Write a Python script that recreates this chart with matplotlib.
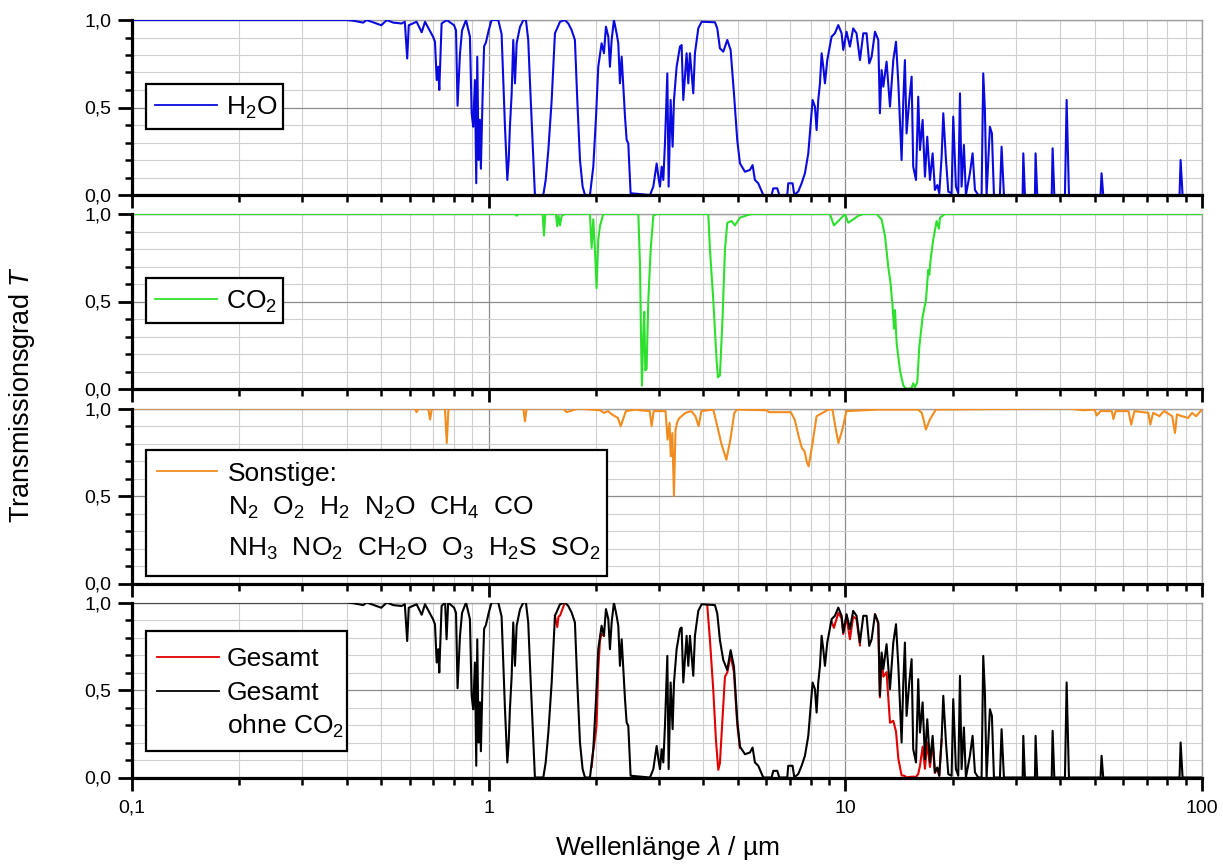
import numpy as np
import matplotlib
matplotlib.use("Agg")
import matplotlib.pyplot as plt
from matplotlib.patches import Rectangle
from matplotlib.lines import Line2D
from matplotlib.ticker import LogLocator, MultipleLocator, NullFormatter

plt.rcParams["font.family"] = ["Liberation Sans", "DejaVu Sans"]
plt.rcParams["mathtext.fontset"] = "custom"
plt.rcParams["mathtext.rm"] = "Liberation Sans"
plt.rcParams["mathtext.it"] = "Liberation Sans:italic"
plt.rcParams["mathtext.bf"] = "Liberation Sans:bold"

# ── data: wavelength in µm, transmission T ──────────────────────────────────

h2o_lam = [
    0.1, 0.40, 0.417, 0.445, 0.455, 0.50, 0.518, 0.540, 0.570, 0.582,
    0.591, 0.597, 0.628, 0.649, 0.663, 0.698, 0.707, 0.715, 0.722, 0.727,
    0.738, 0.763, 0.80, 0.810, 0.818, 0.831, 0.842, 0.864, 0.886, 0.896,
    0.905, 0.915, 0.923, 0.929, 0.937, 0.945, 0.951, 0.962, 0.971, 0.982,
    1.0, 1.019, 1.064, 1.087, 1.099, 1.111, 1.128, 1.138, 1.147, 1.160,
    1.172, 1.185, 1.198, 1.224, 1.251, 1.272, 1.291, 1.306, 1.328, 1.348,
    1.423, 1.445, 1.470, 1.502, 1.534, 1.585, 1.636, 1.672, 1.708, 1.745,
    1.772, 1.803, 1.834, 1.862, 1.923, 1.965, 2.0, 2.029, 2.073, 2.105,
    2.132, 2.165, 2.188, 2.212, 2.245, 2.284, 2.309, 2.334, 2.360, 2.385,
    2.411, 2.437, 2.463, 2.500, 2.834, 2.895, 2.958, 3.0, 3.022, 3.055,
    3.088, 3.121, 3.169, 3.196, 3.237, 3.279, 3.308, 3.365, 3.438, 3.475,
    3.513, 3.589, 3.628, 3.667, 3.747, 3.787, 3.870, 3.954, 4.31, 4.375,
    4.450, 4.548, 4.667, 4.768, 4.872, 4.977, 5.064, 5.230, 5.401, 5.495,
    5.578, 5.700, 5.887, 6.213, 6.280, 6.445, 6.529, 6.874, 6.918, 7.114,
    7.192, 7.379, 7.541, 7.704, 7.873, 7.957, 8.095, 8.219, 8.307, 8.397,
    8.489, 8.581, 8.672, 8.767, 8.899, 9.152, 9.350, 9.555, 9.761, 9.867,
    10.08, 10.30, 10.52, 10.75, 10.99, 11.23, 11.47, 11.67, 11.85, 12.11,
    12.37, 12.50, 12.64, 12.78, 13.05, 13.34, 13.63, 13.87, 14.08, 14.38,
    14.54, 14.69, 14.85, 15.11, 15.34, 15.50, 15.78, 16.01, 16.19, 16.47,
    16.72, 16.97, 17.27, 17.57, 17.83, 18.11, 18.34, 18.62, 18.82, 19.15,
    19.44, 19.86, 20.07, 20.42, 20.73, 20.96, 21.18, 21.50, 21.78, 22.35,
    22.74, 23.09, 23.59, 24.10, 24.36, 24.62, 24.89, 25.43, 25.76, 26.10,
    27.13, 27.42, 27.84, 31.41, 31.55, 31.88, 34.01, 34.15, 34.52, 37.9,
    38.12, 38.54, 41.28, 41.73, 42.36, 51.95, 52.29, 52.85, 86.5, 87.1,
    88.2, 100.0,
]
h2o_t = [
    1.0, 1.0, 0.996, 0.985, 1.0, 0.97, 1.0, 0.985, 0.98, 0.99,
    0.78, 0.97, 0.99, 0.93, 0.99, 0.905, 0.876, 0.657, 0.733, 0.60,
    0.98, 1.0, 0.97, 0.94, 0.51, 0.81, 0.94, 1.0, 0.905, 0.467,
    0.39, 0.657, 0.067, 0.79, 0.20, 0.43, 0.15, 0.58, 0.85, 0.87,
    0.94, 1.0, 1.0, 0.92, 0.657, 0.39, 0.086, 0.2, 0.39, 0.58,
    0.886, 0.638, 0.867, 0.96, 1.0, 1.0, 0.886, 0.638, 0.295, 0.0,
    0.0, 0.086, 0.257, 0.543, 0.924, 0.99, 1.0, 0.98, 0.943, 0.886,
    0.543, 0.2, 0.048, 0.0, 0.0, 0.162, 0.448, 0.733, 0.867, 0.81,
    0.962, 0.905, 0.733, 0.886, 1.0, 0.924, 0.867, 0.638, 0.79, 0.62,
    0.448, 0.314, 0.295, 0.01, 0.0, 0.048, 0.18, 0.086, 0.048, 0.162,
    0.086, 0.295, 0.695, 0.048, 0.543, 0.276, 0.543, 0.733, 0.848, 0.857,
    0.543, 0.81, 0.638, 0.81, 0.581, 0.81, 0.952, 0.99, 0.987, 0.952,
    0.838, 0.819, 0.886, 0.829, 0.581, 0.314, 0.181, 0.133, 0.143, 0.171,
    0.086, 0.067, 0.0, 0.0, 0.038, 0.038, 0.0, 0.0, 0.067, 0.067,
    0.0, 0.02, 0.067, 0.124, 0.238, 0.352, 0.543, 0.505, 0.371, 0.543,
    0.638, 0.81, 0.733, 0.638, 0.771, 0.905, 0.924, 0.971, 0.924, 0.829,
    0.933, 0.848, 0.952, 0.924, 0.771, 0.924, 0.924, 0.752, 0.79, 0.933,
    0.886, 0.467, 0.714, 0.619, 0.762, 0.505, 0.771, 0.876, 0.638, 0.2,
    0.543, 0.771, 0.352, 0.543, 0.676, 0.162, 0.086, 0.562, 0.257, 0.429,
    0.105, 0.333, 0.086, 0.238, 0.029, 0.057, 0.01, 0.219, 0.467, 0.2,
    0.019, 0.01, 0.448, 0.048, 0.01, 0.581, 0.048, 0.286, 0.0, 0.124,
    0.238, 0.029, 0.0, 0.0, 0.695, 0.486, 0.0, 0.39, 0.352, 0.0,
    0.0, 0.276, 0.0, 0.0, 0.238, 0.0, 0.0, 0.238, 0.0, 0.0,
    0.267, 0.0, 0.0, 0.543, 0.0, 0.0, 0.124, 0.0, 0.0, 0.2,
    0.0, 0.0,
]

co2_lam = [
    0.1, 1.185, 1.198, 1.211, 1.417, 1.429, 1.441, 1.544, 1.557, 1.57,
    1.585, 1.602, 1.636, 1.923, 1.944, 1.965, 1.986, 2.007, 2.029, 2.051,
    2.096, 2.628, 2.657, 2.673, 2.690, 2.714, 2.731, 2.749, 2.772, 2.803,
    2.846, 2.895, 2.958, 4.128, 4.173, 4.263, 4.356, 4.393, 4.450, 4.528,
    4.597, 4.667, 4.799, 4.903, 5.064, 5.286, 5.460, 9.053, 9.290, 9.658,
    9.975, 10.19, 10.52, 10.87, 11.23, 12.24, 12.64, 12.92, 13.19, 13.39,
    13.57, 13.69, 13.78, 13.93, 14.23, 14.54, 14.85, 15.34, 15.50, 15.67,
    15.91, 16.12, 16.47, 16.83, 17.08, 17.2, 17.34, 17.64, 18.03, 18.30,
    18.42, 19.02, 100.0,
]
co2_t = [
    1.0, 1.0, 0.99, 1.0, 1.0, 0.877, 1.0, 1.0, 0.93, 0.99,
    0.935, 0.99, 1.0, 1.0, 0.806, 0.97, 0.797, 0.576, 0.854, 0.93,
    1.0, 1.0, 0.70, 0.317, 0.019, 0.317, 0.441, 0.106, 0.115, 0.509,
    0.797, 0.99, 1.0, 1.0, 0.797, 0.509, 0.163, 0.067, 0.077, 0.413,
    0.797, 0.95, 0.96, 0.935, 0.979, 0.992, 1.0, 1.0, 0.935, 0.969,
    1.0, 0.95, 0.969, 0.99, 1.0, 1.0, 0.969, 0.873, 0.70, 0.605,
    0.47, 0.345, 0.451, 0.259, 0.106, 0.019, 0.0, 0.006, 0.033, 0.01,
    0.038, 0.24, 0.413, 0.509, 0.681, 0.653, 0.739, 0.854, 0.96, 0.916,
    0.979, 1.0, 1.0,
]

sonst_lam = [
    0.1, 0.621, 0.628, 0.635, 0.677, 0.685, 0.693, 0.754, 0.763, 0.771,
    0.78, 1.251, 1.264, 1.277, 1.619, 1.654, 1.784, 2.052, 2.105, 2.161,
    2.216, 2.303, 2.345, 2.381, 2.424, 2.585, 2.652, 2.828, 2.864, 2.901,
    3.133, 3.174, 3.215, 3.240, 3.273, 3.307, 3.341, 3.384, 3.428, 3.562,
    3.702, 3.799, 3.878, 3.948, 4.264, 4.375, 4.487, 4.639, 4.760, 4.884,
    4.973, 6.027, 6.105, 7.031, 7.211, 7.399, 7.552, 7.689, 7.790, 7.889,
    8.094, 8.305, 8.630, 8.971, 9.203, 9.370, 9.563, 9.811, 10.07, 12.36,
    15.98, 16.39, 16.61, 16.82, 17.26, 17.94, 42.35, 46.32, 50.02, 50.67,
    51.95, 55.85, 56.43, 57.30, 62.21, 63.33, 64.64, 70.72, 71.64, 72.94,
    75.99, 77.36, 78.37, 82.49, 84.0, 85.07, 87.96, 91.41, 93.77, 96.21,
    100.0,
]
sonst_t = [
    1.0, 1.0, 0.979, 1.0, 1.0, 0.937, 1.0, 1.0, 0.803, 0.99,
    1.0, 1.0, 0.927, 1.0, 1.0, 0.979, 1.0, 0.99, 0.975, 0.985,
    0.966, 0.946, 0.899, 0.937, 0.985, 0.994, 0.99, 0.985, 0.899, 0.985,
    0.985, 0.822, 0.918, 0.727, 0.86, 0.501, 0.88, 0.927, 0.946, 0.975,
    0.985, 0.956, 0.899, 0.985, 0.994, 0.899, 0.803, 0.707, 0.822, 0.975,
    0.994, 0.99, 0.979, 0.979, 0.937, 0.841, 0.774, 0.755, 0.698, 0.669,
    0.803, 0.956, 0.975, 0.994, 0.994, 0.899, 0.803, 0.88, 0.985, 0.994,
    0.994, 0.975, 0.927, 0.88, 0.937, 0.994, 1.0, 0.99, 0.994, 0.96,
    0.985, 0.985, 0.94, 0.985, 0.985, 0.908, 0.985, 0.975, 0.908, 0.975,
    0.956, 0.975, 0.985, 0.956, 0.86, 0.966, 0.956, 0.946, 0.975, 0.956,
    0.994,
]

# Gesamt ohne CO2 (black, bottom panel)
ohne_lam = [
    0.1, 0.40, 0.417, 0.445, 0.455, 0.50, 0.518, 0.540, 0.570, 0.582,
    0.591, 0.597, 0.628, 0.649, 0.663, 0.698, 0.707, 0.715, 0.722, 0.727,
    0.738, 0.755, 0.762, 0.770, 0.80, 0.810, 0.818, 0.831, 0.842, 0.864,
    0.886, 0.896, 0.905, 0.915, 0.923, 0.929, 0.937, 0.945, 0.951, 0.962,
    0.971, 0.982, 1.0, 1.019, 1.064, 1.087, 1.099, 1.111, 1.128, 1.138,
    1.147, 1.160, 1.172, 1.185, 1.198, 1.224, 1.251, 1.272, 1.291, 1.306,
    1.328, 1.348, 1.423, 1.445, 1.470, 1.502, 1.534, 1.585, 1.636, 1.672,
    1.708, 1.745, 1.772, 1.803, 1.834, 1.862, 1.923, 1.965, 2.0, 2.029,
    2.073, 2.105, 2.132, 2.165, 2.188, 2.212, 2.245, 2.284, 2.309, 2.334,
    2.360, 2.385, 2.411, 2.437, 2.463, 2.500, 2.834, 2.895, 2.958, 3.0,
    3.022, 3.055, 3.088, 3.121, 3.169, 3.196, 3.237, 3.279, 3.308, 3.365,
    3.438, 3.475, 3.513, 3.589, 3.628, 3.667, 3.747, 3.787, 3.870, 3.954,
    4.31, 4.375, 4.450, 4.548, 4.667, 4.768, 4.872, 4.977, 5.064, 5.230,
    5.401, 5.495, 5.578, 5.700, 5.887, 6.213, 6.280, 6.445, 6.529, 6.874,
    6.918, 7.114, 7.192, 7.379, 7.541, 7.704, 7.873, 7.957, 8.095, 8.219,
    8.307, 8.397, 8.489, 8.581, 8.672, 8.767, 8.899, 9.152, 9.350, 9.555,
    9.761, 9.867, 10.08, 10.30, 10.52, 10.75, 10.99, 11.23, 11.47, 11.67,
    11.85, 12.11, 12.37, 12.50, 12.64, 12.78, 13.05, 13.34, 13.63, 13.87,
    14.08, 14.38, 14.54, 14.69, 14.85, 15.11, 15.34, 15.50, 15.78, 16.01,
    16.19, 16.47, 16.72, 16.97, 17.27, 17.57, 17.83, 18.11, 18.34, 18.62,
    18.82, 19.15, 19.44, 19.86, 20.07, 20.42, 20.73, 20.96, 21.18, 21.50,
    21.78, 22.35, 22.74, 23.09, 23.59, 24.10, 24.36, 24.62, 24.89, 25.43,
    25.76, 26.10, 27.13, 27.42, 27.84, 31.41, 31.55, 31.88, 34.01, 34.15,
    34.52, 37.9, 38.12, 38.54, 41.28, 41.73, 42.36, 51.95, 52.29, 52.85,
    86.5, 87.1, 88.2, 100.0,
]
ohne_t = [
    1.0, 1.0, 0.996, 0.985, 1.0, 0.97, 1.0, 0.985, 0.98, 0.99,
    0.78, 0.97, 0.99, 0.93, 0.99, 0.905, 0.876, 0.657, 0.733, 0.60,
    0.98, 1.0, 0.79, 1.0, 0.97, 0.94, 0.51, 0.81, 0.94, 1.0,
    0.905, 0.467, 0.39, 0.657, 0.067, 0.79, 0.20, 0.43, 0.15, 0.58,
    0.85, 0.87, 0.94, 1.0, 1.0, 0.92, 0.657, 0.39, 0.086, 0.2,
    0.39, 0.58, 0.886, 0.638, 0.867, 0.96, 1.0, 1.0, 0.886, 0.638,
    0.295, 0.0, 0.0, 0.086, 0.257, 0.543, 0.924, 0.99, 1.0, 0.98,
    0.943, 0.886, 0.543, 0.2, 0.048, 0.0, 0.0, 0.162, 0.448, 0.733,
    0.867, 0.81, 0.962, 0.905, 0.733, 0.886, 1.0, 0.924, 0.867, 0.638,
    0.79, 0.62, 0.448, 0.314, 0.295, 0.01, 0.0, 0.048, 0.18, 0.086,
    0.048, 0.162, 0.086, 0.295, 0.695, 0.048, 0.543, 0.276, 0.543, 0.733,
    0.848, 0.857, 0.543, 0.81, 0.638, 0.81, 0.581, 0.81, 0.952, 0.99,
    0.985, 0.937, 0.785, 0.671, 0.614, 0.728, 0.633, 0.329, 0.177, 0.133,
    0.143, 0.171, 0.086, 0.067, 0.0, 0.0, 0.038, 0.038, 0.0, 0.0,
    0.067, 0.067, 0.0, 0.02, 0.067, 0.124, 0.238, 0.352, 0.543, 0.505,
    0.371, 0.543, 0.638, 0.81, 0.733, 0.638, 0.771, 0.905, 0.924, 0.971,
    0.924, 0.829, 0.933, 0.848, 0.952, 0.924, 0.771, 0.924, 0.924, 0.752,
    0.79, 0.933, 0.886, 0.467, 0.714, 0.619, 0.762, 0.505, 0.771, 0.876,
    0.638, 0.2, 0.543, 0.771, 0.352, 0.543, 0.676, 0.162, 0.086, 0.562,
    0.257, 0.429, 0.105, 0.333, 0.086, 0.238, 0.029, 0.057, 0.01, 0.219,
    0.467, 0.2, 0.019, 0.01, 0.448, 0.048, 0.01, 0.581, 0.048, 0.286,
    0.0, 0.124, 0.238, 0.029, 0.0, 0.0, 0.695, 0.486, 0.0, 0.39,
    0.352, 0.0, 0.0, 0.276, 0.0, 0.0, 0.238, 0.0, 0.0, 0.238,
    0.0, 0.0, 0.267, 0.0, 0.0, 0.543, 0.0, 0.0, 0.124, 0.0,
    0.0, 0.2, 0.0, 0.0,
]

# Gesamt (red) – only the bands where CO2 makes a visible difference
nan = float("nan")
gesamt_lam = [
    1.534, 1.557, 1.57, 1.585, 1.602, 1.636, nan,
    1.944, 1.965, 1.986, 2.0, 2.007, 2.029, 2.051, 2.073, 2.105, nan,
    4.10, 4.173, 4.263, 4.337, 4.403, 4.450, 4.528, 4.597, 4.667, 4.768,
    4.872, 4.977, 5.064, nan,
    9.152, 9.29, 9.35, 9.555, 9.761, 9.867, 10.08, 10.30, 10.52, 10.75,
    10.99, nan,
    12.11, 12.37, 12.50, 12.64, 12.78, 13.05, 13.34, 13.63, 13.87, 14.08,
    14.38, 14.54, 14.69, 14.85, 15.11, 15.34, 15.50, 15.78, 16.01, 16.19,
    16.47, 16.72, 16.97, 17.27, 17.57, 17.83, 18.11, 18.34, 18.62,
]
gesamt_t = [
    0.924, 0.86, 0.92, 0.925, 0.95, 1.0, nan,
    0.06, 0.157, 0.22, 0.27, 0.30, 0.62, 0.78, 0.82, 0.81, nan,
    0.985, 0.785, 0.50, 0.215, 0.044, 0.082, 0.348, 0.576, 0.60, 0.70,
    0.60, 0.30, 0.17, nan,
    0.89, 0.855, 0.875, 0.94, 0.91, 0.82, 0.915, 0.79, 0.92, 0.905,
    0.755, nan,
    0.933, 0.877, 0.458, 0.692, 0.576, 0.602, 0.313, 0.324, 0.263, 0.108,
    0.012, 0.011, 0.008, 0.0, 0.003, 0.004, 0.005, 0.003, 0.02, 0.067,
    0.176, 0.05, 0.20, 0.06, 0.198, 0.026, 0.054, 0.01, 0.217,
]

x_ticks = [0.1, 1, 10, 100]
x_ticklabels = ["0,1", "1", "10", "100"]
y_ticks = [0.0, 0.5, 1.0]
y_ticklabels = ["0,0", "0,5", "1,0"]

# ── figure ──────────────────────────────────────────────────────────────────

W, H = 1223, 865
fig = plt.figure(figsize=(W / 100, H / 100), dpi=100, facecolor="white")

LEFT, RIGHT = 132, 1202
PANEL_H = 175
tops = [20, 214, 408.5, 602.5]

C_H2O = "#0a0ade"
C_CO2 = "#2ee02e"
C_SON = "#f28c1e"
C_RED = "#e00000"
LW = 1.5
LEG_FS = 19
TICK_FS = 14


def make_axes(top):
    ax = fig.add_axes([LEFT / W, 1 - (top + PANEL_H) / H,
                       (RIGHT - LEFT) / W, PANEL_H / H])
    ax.set_xscale("log")
    ax.set_xlim(0.1, 100)
    ax.set_ylim(0, 1)
    ax.set_xticks(x_ticks)
    ax.set_xticklabels(x_ticklabels)
    ax.xaxis.set_minor_locator(LogLocator(base=10, subs=np.arange(2, 10)))
    ax.xaxis.set_minor_formatter(NullFormatter())
    ax.set_yticks(y_ticks)
    ax.set_yticklabels(y_ticklabels)
    ax.yaxis.set_minor_locator(MultipleLocator(0.1))
    ax.grid(which="minor", color="#cfcfcf", linewidth=0.8)
    ax.grid(which="major", color="#8c8c8c", linewidth=0.9)
    ax.set_axisbelow(True)
    for s in ("left", "bottom"):
        ax.spines[s].set_linewidth(2.3)
        ax.spines[s].set_color("black")
        ax.spines[s].set_zorder(5)
    for s in ("top", "right"):
        ax.spines[s].set_linewidth(1.0)
        ax.spines[s].set_color("#a0a0a0")
    ax.tick_params(axis="x", which="major", direction="out", length=9,
                   width=2.0, top=False, pad=7, labelsize=TICK_FS)
    ax.tick_params(axis="x", which="minor", direction="out", length=5,
                   width=1.8, top=False)
    ax.tick_params(axis="y", which="major", direction="out", length=10,
                   width=2.0, right=False, pad=5, labelsize=TICK_FS)
    ax.tick_params(axis="y", which="minor", direction="out", length=5,
                   width=1.8, right=False)
    return ax


ax1, ax2, ax3, ax4 = [make_axes(t) for t in tops]
for ax in (ax1, ax2, ax3):
    ax.tick_params(axis="x", which="both", labelbottom=False)

ax1.plot(h2o_lam, h2o_t, color=C_H2O, lw=LW, zorder=3)
ax2.plot(co2_lam, co2_t, color=C_CO2, lw=LW, zorder=3)
ax3.plot(sonst_lam, sonst_t, color=C_SON, lw=LW, zorder=3)
ax4.plot(gesamt_lam, gesamt_t, color=C_RED, lw=LW, zorder=3)
ax4.plot(ohne_lam, ohne_t, color="black", lw=LW, zorder=4)

# ── legends (drawn by hand, figure pixel coords) ────────────────────────────

def fx(x):
    return x / W


def fy(y):
    return 1 - y / H


def legend_box(x0, y0, x1, y1):
    fig.add_artist(Rectangle((fx(x0), fy(y1)), (x1 - x0) / W, (y1 - y0) / H,
                             transform=fig.transFigure, facecolor="white",
                             edgecolor="black", linewidth=1.6, zorder=10))


def legend_line(x0, x1, y, color):
    fig.add_artist(Line2D([fx(x0), fx(x1)], [fy(y), fy(y)],
                          transform=fig.transFigure, color=color,
                          lw=1.3, zorder=11))


def legend_text(x, y, s):
    fig.text(fx(x), fy(y), s, fontsize=LEG_FS, ha="left", va="baseline",
             zorder=12)


legend_box(146, 84, 283, 129)
legend_line(155, 217, 104.5, C_H2O)
legend_text(226, 114.5, r"H$_2$O")

legend_box(146, 278, 283, 323)
legend_line(155, 217, 298.5, C_CO2)
legend_text(226, 308.5, r"CO$_2$")

legend_box(146, 450, 607, 576)
legend_line(157, 217, 471, C_SON)
legend_text(228, 481, "Sonstige:")
legend_text(228, 515, r"N$_2$  O$_2$  H$_2$  N$_2$O  CH$_4$  CO")
legend_text(228, 556, r"NH$_3$  NO$_2$  CH$_2$O  O$_3$  H$_2$S  SO$_2$")

legend_box(146, 631, 347, 751)
legend_line(157, 219, 657, C_RED)
legend_line(157, 219, 690.5, "black")
legend_text(227, 666, "Gesamt")
legend_text(227, 700, "Gesamt")
legend_text(227, 734, r"ohne CO$_2$")

# axis labels
fig.text(fx(22), fy(395), r"Transmissionsgrad $T$", rotation=90,
         fontsize=19.5, ha="center", va="center")
fig.text(fx(667), fy(855), "Wellenlänge $\\lambda$ / µm",
         fontsize=19, ha="center", va="baseline")

fig.savefig("out.png", dpi=100, facecolor="white")
